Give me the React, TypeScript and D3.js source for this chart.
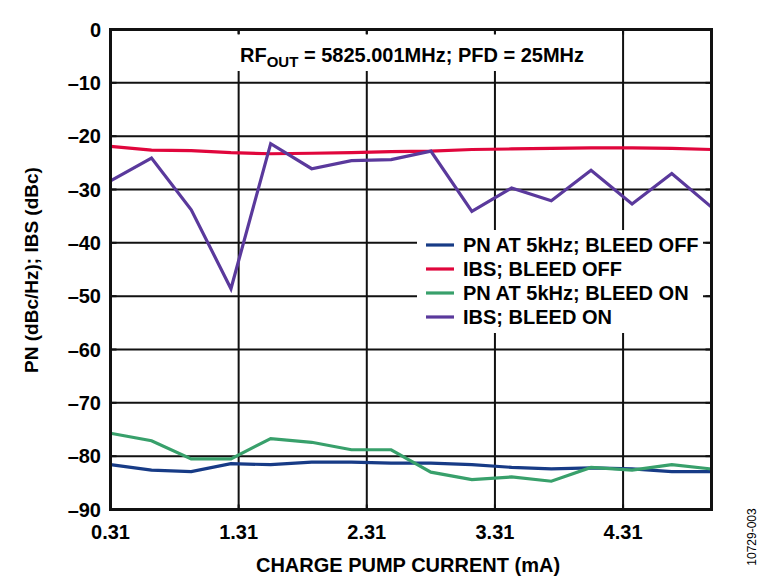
import * as d3 from "d3";

// charge pump current settings (mA)
const current = [0.31, 0.63, 0.94, 1.25, 1.56, 1.88, 2.19, 2.5, 2.81, 3.13, 3.44, 3.75, 4.06, 4.38, 4.69, 5.0];

const pnBleedOff = [-81.6, -82.6, -82.9, -81.4, -81.6, -81.1, -81.1, -81.3, -81.3, -81.6, -82.1, -82.4, -82.2, -82.4, -82.9, -82.9];
const ibsBleedOff = [-21.9, -22.6, -22.7, -23.1, -23.3, -23.2, -23.1, -22.9, -22.8, -22.5, -22.4, -22.3, -22.2, -22.2, -22.3, -22.5];
const pnBleedOn = [-75.7, -77.1, -80.5, -80.5, -76.7, -77.4, -78.8, -78.8, -83.0, -84.4, -83.9, -84.7, -82.1, -82.6, -81.6, -82.4];
const ibsBleedOn = [-28.4, -24.1, -33.8, -48.6, -21.4, -26.1, -24.6, -24.4, -22.8, -34.1, -29.7, -32.1, -26.4, -32.7, -27.0, -33.3];

const xTicks = [0.31, 1.31, 2.31, 3.31, 4.31];
const yTicks = [0, -10, -20, -30, -40, -50, -60, -70, -80, -90];

const seriesNames = ["PN AT 5kHz; BLEED OFF", "IBS; BLEED OFF", "PN AT 5kHz; BLEED ON", "IBS; BLEED ON"];
const seriesColors = ["#173b86", "#e0063c", "#38a06b", "#5a399c"];
const seriesData = [pnBleedOff, ibsBleedOff, pnBleedOn, ibsBleedOn];

const W = 766;
const H = 582;
const left = 110.5, right = 711.5, top = 29.5, bottom = 509.5;
const font = "'Liberation Sans', Arial, sans-serif";

export default function App() {
  const x = d3.scaleLinear().domain([0.31, 5.0]).range([left, right]);
  const y = d3.scaleLinear().domain([-90, 0]).range([bottom, top]);

  const line = d3.line<number>()
    .x((_, i) => x(current[i]))
    .y(d => y(d));

  const fmt = (v: number) => (v < 0 ? "\u2013" + Math.abs(v) : String(v));

  // white boxes behind title and legend
  const titleBox = { x0: 236, x1: 600, y0: 34, y1: 71 };
  const legBox = { x0: 417, x1: 703, y0: 230, y1: 333 };
  const legRows = [245, 269, 293, 317];

  return (
    <svg width={W} height={H} style={{ position: "absolute", left: 0, top: 0, background: "#fff" }}>
      {/* grid */}
      {yTicks.map(t => (
        <line key={"gy" + t} x1={left} x2={right} y1={y(t)} y2={y(t)} stroke="#111" strokeWidth={2} />
      ))}
      {xTicks.map(t => (
        <line key={"gx" + t} x1={x(t)} x2={x(t)} y1={top} y2={bottom} stroke="#111" strokeWidth={2} />
      ))}

      <rect x={titleBox.x0} y={titleBox.y0} width={titleBox.x1 - titleBox.x0} height={titleBox.y1 - titleBox.y0} fill="#fff" />
      <rect x={legBox.x0} y={legBox.y0} width={legBox.x1 - legBox.x0} height={legBox.y1 - legBox.y0} fill="#fff" />

      {/* inner ticks on the frame */}
      {yTicks.map(t => (
        <g key={"ty" + t}>
          <line x1={left} x2={left + 6} y1={y(t)} y2={y(t)} stroke="#111" strokeWidth={2} />
          <line x1={right - 6} x2={right} y1={y(t)} y2={y(t)} stroke="#111" strokeWidth={2} />
        </g>
      ))}
      {xTicks.map(t => (
        <g key={"tx" + t}>
          <line x1={x(t)} x2={x(t)} y1={top} y2={top + 5} stroke="#111" strokeWidth={2} />
          <line x1={x(t)} x2={x(t)} y1={bottom - 5} y2={bottom} stroke="#111" strokeWidth={2} />
        </g>
      ))}

      {/* series */}
      {seriesData.map((d, i) => (
        <path key={"s" + i} d={line(d) || ""} fill="none" stroke={seriesColors[i]} strokeWidth={3.2} strokeLinejoin="miter" />
      ))}

      {/* frame */}
      <rect x={left} y={top} width={right - left} height={bottom - top} fill="none" stroke="#111" strokeWidth={3} />

      {/* title */}
      <text x={240} y={62} fontFamily={font} fontWeight="bold" fontSize={20} fill="#000">
        RF<tspan fontSize={15} dy={5}>OUT</tspan>
        <tspan dy={-5}> = 5825.001MHz; PFD = 25MHz</tspan>
      </text>

      {/* legend */}
      {seriesNames.map((n, i) => (
        <g key={"l" + i}>
          <line x1={426} x2={454} y1={legRows[i]} y2={legRows[i]} stroke={seriesColors[i]} strokeWidth={3.2} />
          <text x={463} y={legRows[i] + 7} fontFamily={font} fontWeight="bold" fontSize={20} fill="#000">{n}</text>
        </g>
      ))}

      {/* y tick labels */}
      {yTicks.map(t => (
        <text key={"ly" + t} x={101} y={y(t) + 7} textAnchor="end" fontFamily={font} fontWeight="bold" fontSize={20} fill="#000">
          {fmt(t)}
        </text>
      ))}
      {/* x tick labels */}
      {xTicks.map(t => (
        <text key={"lx" + t} x={x(t)} y={539} textAnchor="middle" fontFamily={font} fontWeight="bold" fontSize={20} fill="#000">
          {t.toFixed(2)}
        </text>
      ))}

      <text x={408} y={572} textAnchor="middle" fontFamily={font} fontWeight="bold" fontSize={20} fill="#000">
        CHARGE PUMP CURRENT (mA)
      </text>
      <text transform="translate(38,270) rotate(-90)" textAnchor="middle" fontFamily={font} fontWeight="bold" fontSize={19} fill="#000">
        PN (dBc/Hz); IBS (dBc)
      </text>
      <text transform="translate(756,537) rotate(-90)" textAnchor="middle" fontFamily={font} fontSize={12} fill="#000">
        10729-003
      </text>
    </svg>
  );
}
